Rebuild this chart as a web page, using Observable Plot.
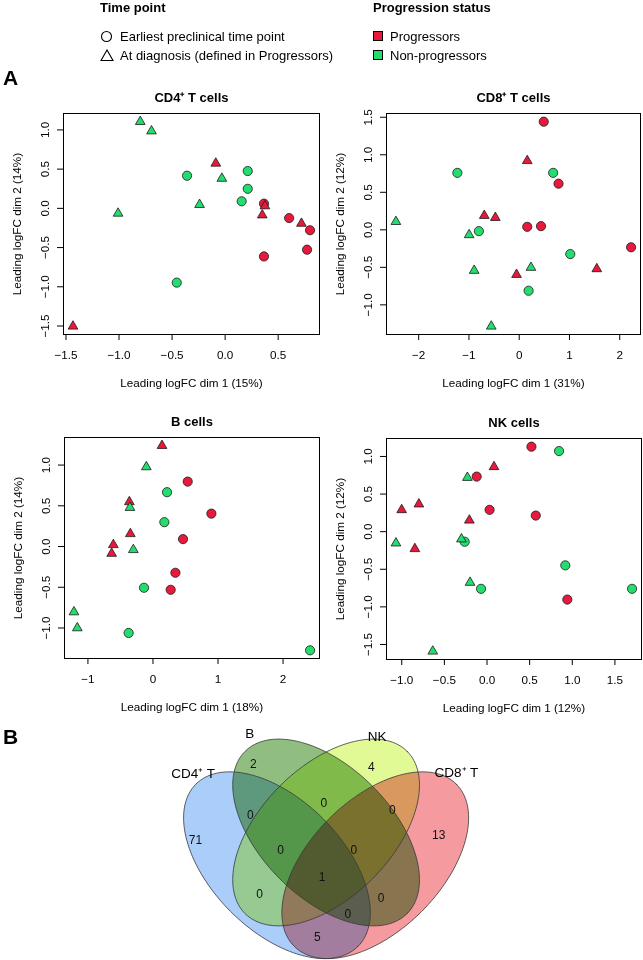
<!DOCTYPE html>
<html><head><meta charset="utf-8">
<script src="https://cdn.jsdelivr.net/npm/d3@7"></script>
<script src="https://cdn.jsdelivr.net/npm/@observablehq/plot@0.6"></script>
<style>
body{margin:0;background:#fff;font-family:"Liberation Sans",Arial,Helvetica,sans-serif;color:#000;}
#root{position:relative;width:643px;height:960px;overflow:hidden;background:#fff;isolation:isolate;}
.abs{position:absolute;white-space:nowrap;}
.hdr{font-weight:bold;font-size:13px;line-height:15px;}
.itm{font-size:13px;line-height:15px;}
.let{font-weight:bold;font-size:21px;line-height:24px;}
</style></head><body><div id="root"></div>
<script>
// ---------- data ----------
const statusLabels = ["Progressors", "Non-progressors"];
const statusColors = ["#E8193C", "#23DE6E"];
const timeLabels = ["Earliest preclinical time point", "At diagnosis (defined in Progressors)"];
// sample order shared by all panels: P = progressor, N = non-progressor; E = earliest, D = diagnosis
const pointStatus = ["P","P","P","P","P","P","P","P","P","P","N","N","N","N","N","N","N","N","N","N"];
const pointTime   = ["E","E","E","E","E","D","D","D","D","D","E","E","E","E","E","D","D","D","D","D"];

const panelTitles = ["CD4⁺ T cells", "CD8⁺ T cells", "B cells", "NK cells"];
const xAxisLabels = ["Leading logFC dim 1 (15%)", "Leading logFC dim 1 (31%)", "Leading logFC dim 1 (18%)", "Leading logFC dim 1 (12%)"];
const yAxisLabels = ["Leading logFC dim 2 (14%)", "Leading logFC dim 2 (12%)", "Leading logFC dim 2 (14%)", "Leading logFC dim 2 (12%)"];

const cd4X = [0.366, 0.603, 0.800, 0.772, 0.366, -0.088, 0.375, 0.350, 0.719, -1.434, -0.359, 0.213, 0.213, 0.156, -0.456, -0.800, -0.694, -1.009, -0.031, -0.241];
const cd4Y = [0.060, -0.124, -0.279, -0.527, -0.613, 0.574, 0.030, -0.086, -0.193, -1.504, 0.416, 0.476, 0.249, 0.090, -0.947, 1.105, 0.985, -0.064, 0.381, 0.047];
const cd8X = [0.488, 0.782, 0.160, 0.434, 2.226, 0.160, -0.695, -0.475, -0.053, 1.544, -1.230, 0.675, -0.802, 1.016, 0.187, -2.453, -0.996, -0.896, 0.234, -0.556];
const cd8Y = [1.441, 0.615, 0.040, 0.049, -0.233, 0.920, 0.189, 0.162, -0.597, -0.521, 0.759, 0.759, -0.018, -0.323, -0.812, 0.108, -0.067, -0.543, -0.503, -1.286];
const bX   = [0.534, 0.898, 0.462, 0.345, 0.272, 0.139, -0.363, -0.348, -0.609, -0.635, 0.216, 0.175, -0.138, -0.374, 2.415, -0.102, -0.354, -0.302, -1.215, -1.163];
const bY   = [0.797, 0.404, 0.091, -0.322, -0.531, 1.238, 0.548, 0.156, 0.021, -0.086, 0.667, 0.299, -0.506, -1.061, -1.274, 0.977, 0.478, -0.040, -0.804, -1.000];
const nkX  = [0.521, -0.121, 0.030, 0.572, 0.942, 0.082, -0.799, -1.001, -0.207, -0.846, 0.845, -0.262, 0.918, -0.070, 1.701, -0.230, -0.300, -1.068, -0.199, -0.636];
const nkY  = [1.130, 0.732, 0.290, 0.214, -0.903, 0.862, 0.366, 0.290, 0.151, -0.228, 1.072, -0.134, -0.448, -0.760, -0.760, 0.719, -0.099, -0.153, -0.676, -1.591];

const cd4XTicks = [-1.5, -1, -0.5, 0, 0.5];
const cd4YTicks = [-1.5, -1, -0.5, 0, 0.5, 1];
const cd8XTicks = [-2, -1, 0, 1, 2];
const cd8YTicks = [-1, -0.5, 0, 0.5, 1, 1.5];
const bXTicks   = [-1, 0, 1, 2];
const bYTicks   = [-1, -0.5, 0, 0.5, 1];
const nkXTicks  = [-1, -0.5, 0, 0.5, 1, 1.5];
const nkYTicks  = [-1.5, -1, -0.5, 0, 0.5, 1];

// Venn diagram (panel B)
const vennSets = ["CD4⁺ T", "B", "NK", "CD8⁺ T"];
const vennColors = ["#AACDFA", "#8FBE80", "#E2FA96", "#F59BA0"];
const vennRegions = ["CD4", "B", "NK", "CD8", "CD4&B", "B&NK", "NK&CD8", "CD4&B&NK", "B&NK&CD8", "CD4&B&NK&CD8", "CD4&NK", "B&CD8", "CD4&B&CD8", "CD4&CD8"];
const vennCounts  = [71, 2, 4, 13, 0, 0, 0, 0, 0, 1, 0, 0, 0, 5];

// ---------- layout (positions, not data) ----------
const vennEllipseCx = [0.35, 0.5, 0.5, 0.65];
const vennEllipseCy = [0.47, 0.57, 0.57, 0.47];
const vennEllipseRot = [-45, -45, 45, 45];
const vennEllipseA = 0.35, vennEllipseB = 0.2;
const vennSetLabelX = [0.094, 0.267, 0.656, 0.898];
const vennSetLabelY = [0.749, 0.873, 0.863, 0.754];
const vennRegionX = [0.101, 0.278, 0.638, 0.844, 0.269, 0.493, 0.702, 0.361, 0.585, 0.488, 0.297, 0.668, 0.566, 0.473];
const vennRegionY = [0.548, 0.780, 0.769, 0.563, 0.624, 0.658, 0.639, 0.517, 0.517, 0.434, 0.383, 0.370, 0.322, 0.250];

const FONT = '"Liberation Sans", Arial, Helvetica, sans-serif';
const root = document.getElementById("root");

function place(el, left, top) {
  el.style.position = "absolute"; el.style.left = left + "px"; el.style.top = top + "px";
  root.appendChild(el); return el;
}
function div(cls, text, left, top) {
  const d = document.createElement("div"); d.className = "abs " + cls; d.textContent = text;
  return place(d, left, top);
}
function svgIcon(inner, left, top, w, h) {
  const s = document.createElementNS("http://www.w3.org/2000/svg", "svg");
  s.setAttribute("width", w); s.setAttribute("height", h); s.innerHTML = inner;
  return place(s, left, top);
}

// ---------- legend ----------
div("hdr", "Time point", 100, 0);
svgIcon('<circle cx="6.5" cy="6.5" r="5" fill="none" stroke="#000" stroke-width="1.1"/>', 100, 29.5, 13, 13);
div("itm", timeLabels[0], 120, 28.5);
svgIcon('<path d="M1,11.5 L7,1 L13,11.5 Z" fill="none" stroke="#000" stroke-width="1.1"/>', 100, 48.5, 14, 13);
div("itm", timeLabels[1], 120, 47.5);
div("hdr", "Progression status", 373, 0);
statusLabels.forEach((s, i) => {
  svgIcon(`<rect x="0.5" y="0.5" width="9" height="9" fill="${statusColors[i]}" stroke="#000" stroke-width="1"/>`, 373, 31 + i * 19, 11, 11);
  div("itm", s, 390, 28.5 + i * 19);
});
div("let", "A", 3, 66);
div("let", "B", 3, 725);

// ---------- scatter panels ----------
function rExtent(v) { const [a, b] = d3.extent(v); const p = (b - a) * 0.04; return [a - p, b + p]; }
function scatter(i, xs, ys, xTicks, yTicks, xFmt, mL, mR) {
  const data = xs.map((x, k) => ({
    x, y: ys[k],
    status: statusLabels[pointStatus[k] === "P" ? 0 : 1],
    time: timeLabels[pointTime[k] === "E" ? 0 : 1]
  }));
  return Plot.plot({
    width: 321, height: 307,
    marginLeft: mL, marginRight: mR, marginTop: 28, marginBottom: 58,
    style: {fontFamily: FONT, fontSize: "11.7px", color: "#000", background: "transparent", overflow: "visible"},
    x: {domain: rExtent(xs), axis: null},
    y: {domain: rExtent(ys), axis: null},
    symbol: {domain: timeLabels, range: ["circle", "triangle"]},
    color: {domain: statusLabels, range: statusColors},
    r: {type: "identity"},
    marks: [
      Plot.axisX(xTicks, {anchor: "bottom", tickSize: 6, tickPadding: 10, tickFormat: d3.format(xFmt), stroke: "#000", label: null}),
      Plot.axisY(yTicks, {anchor: "left", tickSize: 6, tickPadding: 9, tickRotate: -90, tickFormat: d3.format(".1f"), stroke: "#000", label: null}),
      Plot.frame({stroke: "#000", strokeWidth: 1}),
      Plot.dot(data, {x: "x", y: "y", symbol: "time", fill: "status",
        r: d => d.time === timeLabels[0] ? 4.6 : 3.6, stroke: "#1a1a1a", strokeWidth: 0.8}),
      Plot.text([panelTitles[i]], {text: d => d, frameAnchor: "top", dy: -16, lineAnchor: "middle", fontWeight: "bold", fontSize: 13}),
      Plot.text([xAxisLabels[i]], {text: d => d, frameAnchor: "bottom", dy: 49, lineAnchor: "middle"}),
      Plot.text([yAxisLabels[i]], {text: d => d, frameAnchor: "left", dx: -46, rotate: -90, textAnchor: "middle", lineAnchor: "middle"})
    ]
  });
}
place(scatter(0, cd4X, cd4Y, cd4XTicks, cd4YTicks, ".1f", 63, 2), 0, 85);
place(scatter(1, cd8X, cd8Y, cd8XTicks, cd8YTicks, "d", 64, 3), 322, 85);
place(scatter(2, bX, bY, bXTicks, bYTicks, "d", 64, 2), 0, 409);
place(scatter(3, nkX, nkY, nkXTicks, nkYTicks, ".1f", 64, 2), 322, 410);

// ---------- Venn diagram ----------
const ellipsePts = vennSets.map((s, i) => d3.range(0, 145).map(k => {
  const t = 2 * Math.PI * k / 144, th = vennEllipseRot[i] * Math.PI / 180;
  return {
    set: s,
    x: vennEllipseCx[i] + vennEllipseA * Math.cos(t) * Math.cos(th) - vennEllipseB * Math.sin(t) * Math.sin(th),
    y: vennEllipseCy[i] + vennEllipseA * Math.cos(t) * Math.sin(th) + vennEllipseB * Math.sin(t) * Math.cos(th)
  };
}));
const regionData = vennRegions.map((r, i) => ({region: r, count: vennCounts[i], x: vennRegionX[i], y: vennRegionY[i]}));
const setLabelData = vennSets.map((s, i) => ({set: s, x: vennSetLabelX[i], y: vennSetLabelY[i]}));
const venn = Plot.plot({
  width: 643, height: 260,
  style: {fontFamily: FONT, color: "#000", background: "transparent", overflow: "visible"},
  x: {domain: [0, 1], range: [161.8, 489.4], axis: null},
  y: {domain: [0, 1], range: [318.7, -8.9], axis: null},
  marks: [
    ...ellipsePts.map((pts, i) => Plot.line(pts, {x: "x", y: "y", fill: vennColors[i], stroke: "none", curve: "linear-closed", mixBlendMode: "multiply"})),
    ...ellipsePts.map(pts => Plot.line(pts, {x: "x", y: "y", stroke: "#3a3a3a", strokeOpacity: 0.8, strokeWidth: 1, curve: "linear-closed"})),
    Plot.text(regionData, {x: "x", y: "y", text: d => String(d.count), fontSize: 12, fill: "#111"}),
    Plot.text(setLabelData, {x: "x", y: "y", text: "set", fontSize: 13.5, fill: "#000"})
  ]
});
place(venn, 0, 700);
</script></body></html>
